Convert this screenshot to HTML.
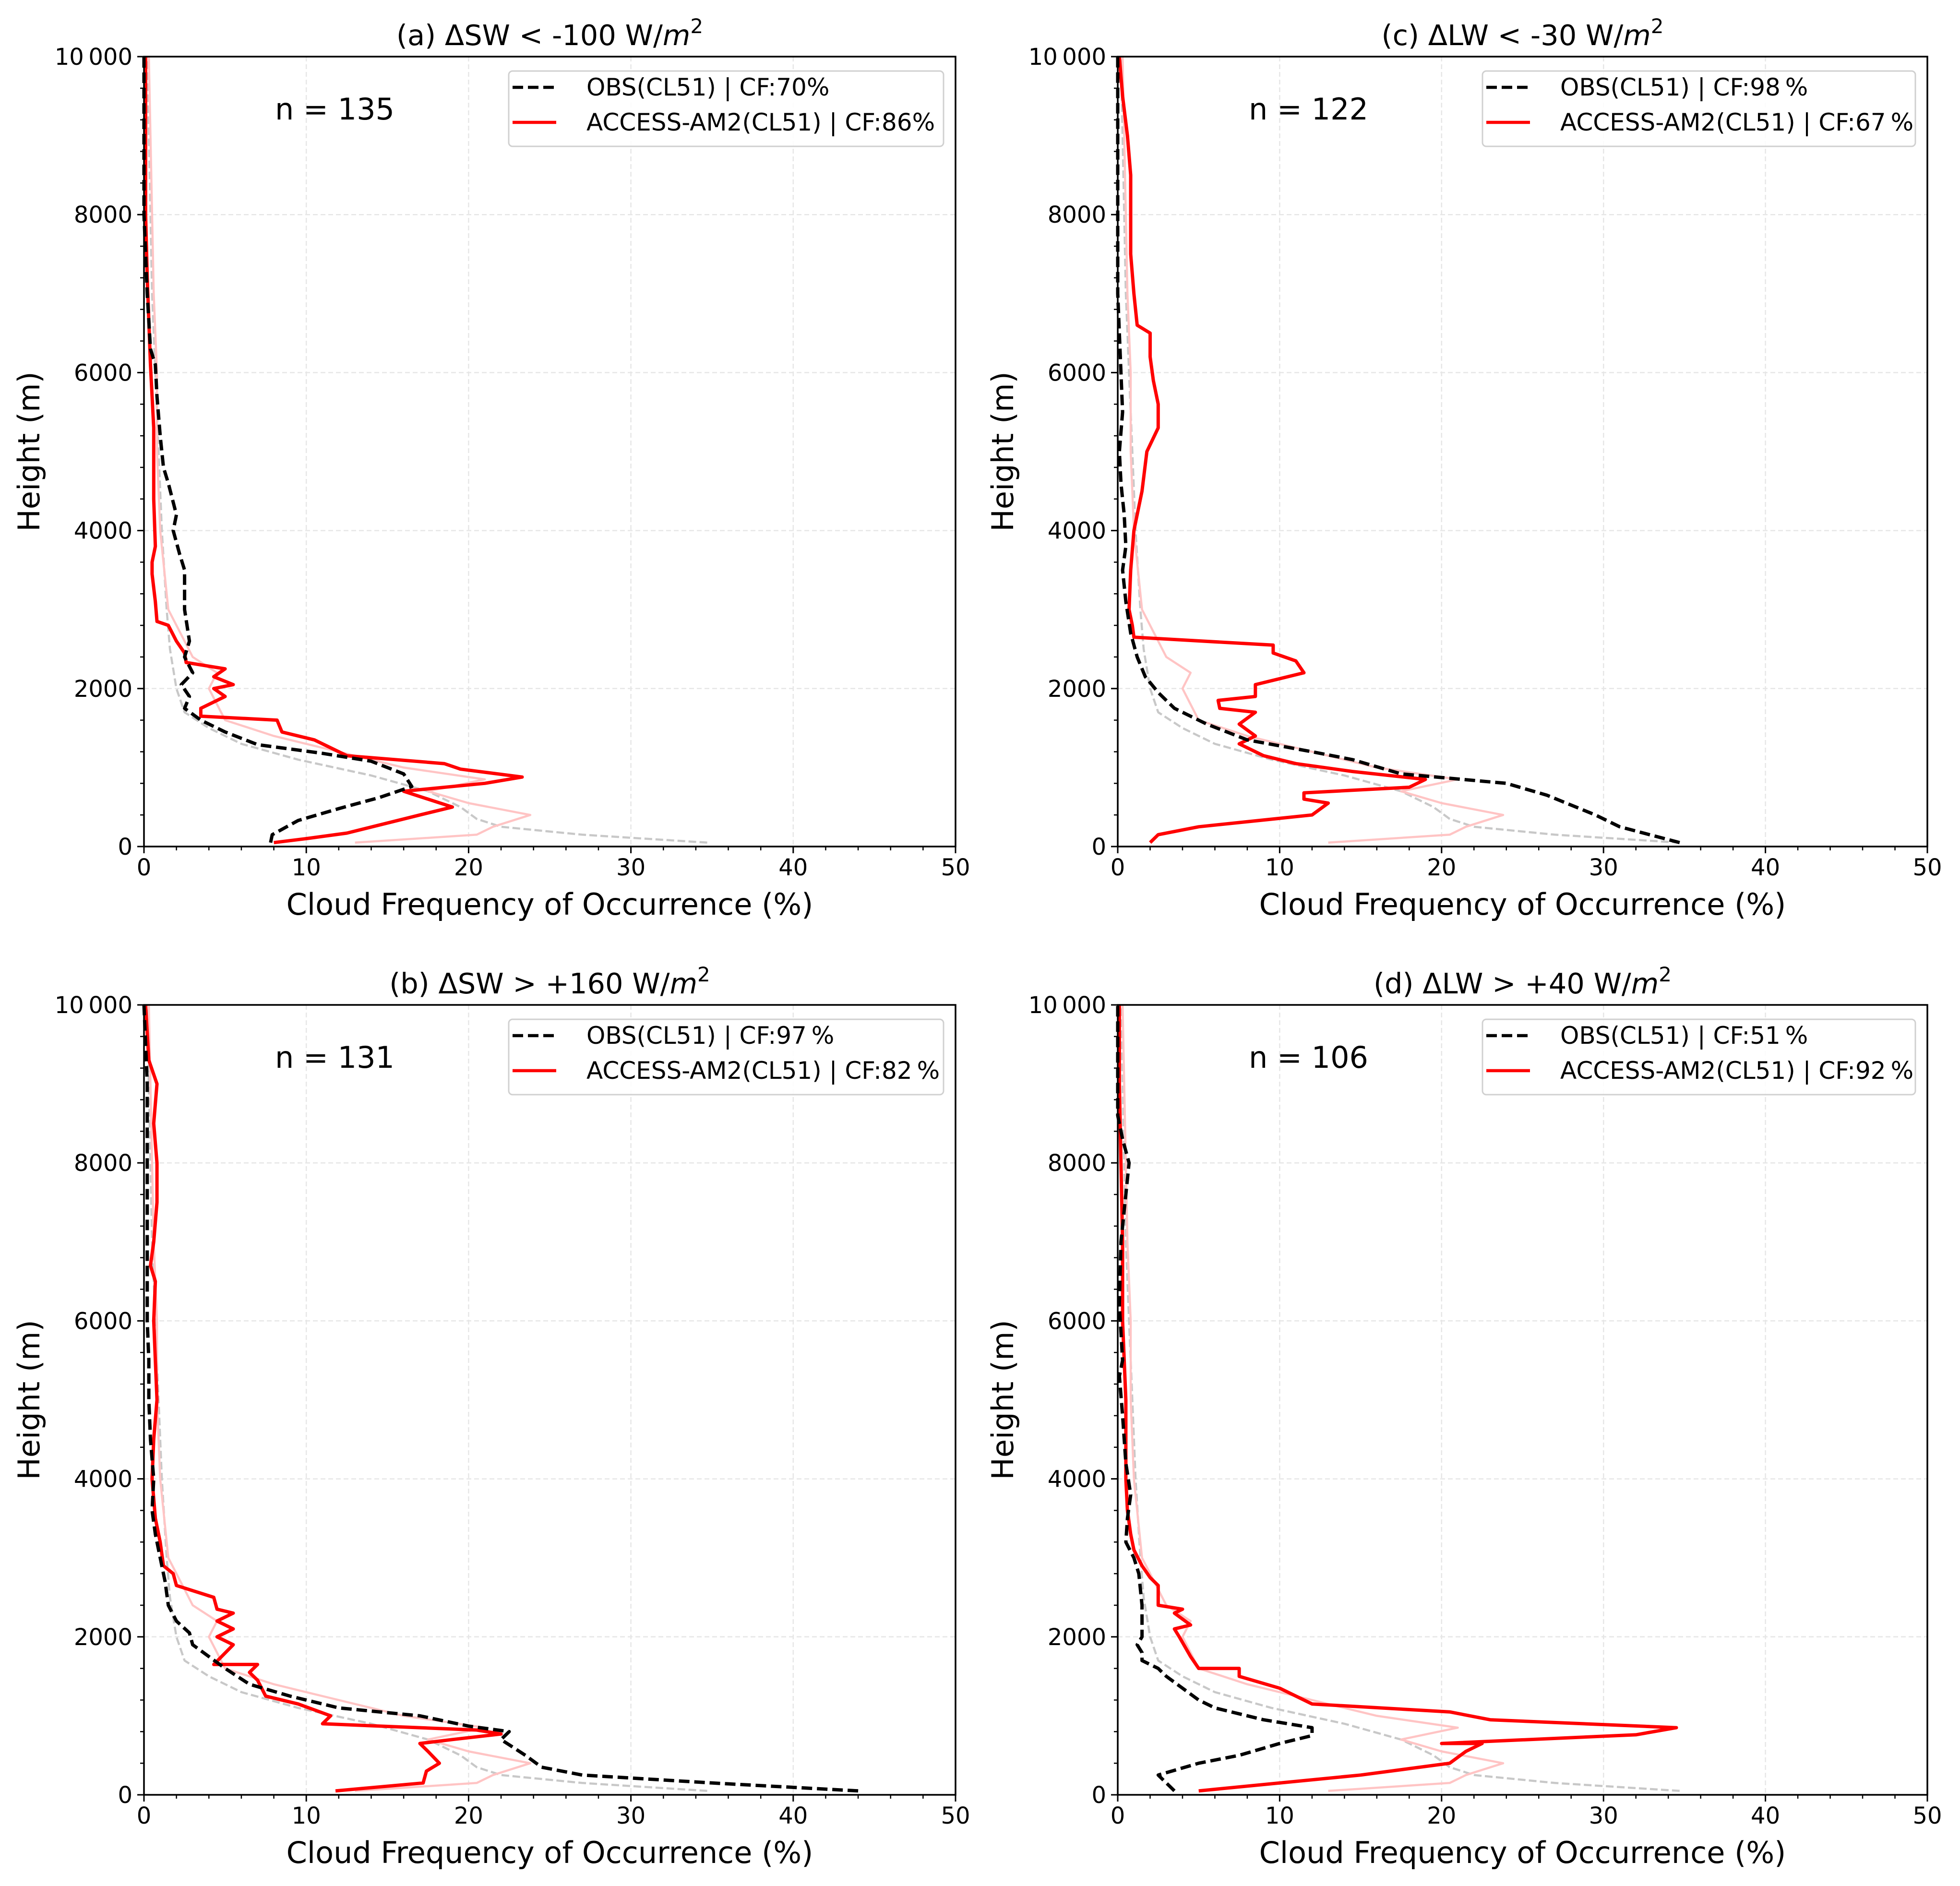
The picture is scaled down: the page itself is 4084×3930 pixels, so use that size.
<!DOCTYPE html>
<html><head><meta charset="utf-8"><style>
html,body{margin:0;padding:0;background:#fff;}
svg{display:block;font-family:"DejaVu Sans","Liberation Sans",sans-serif;}
</style></head><body>
<svg id="fig" width="4084" height="3930" viewBox="0 0 4084 3930" xmlns="http://www.w3.org/2000/svg"></svg>
<script>
const xTicks=[0,10,20,30,40,50];
const yTicks=[0,2000,4000,6000,8000,10000];
const yTickLabels=["0","2000","4000","6000","8000","10\u2009000"];
const bgGrayX=[34.7,27,22,20.5,19.5,17.5,14,9.5,6,4,2.5,2,1.6,1.4,1.1,0.9,0.7,0.5,0.4,0.3,0.2];
const bgGrayH=[50,150,250,350,500,700,900,1100,1300,1500,1700,2000,2500,3000,4000,5000,6000,7000,8000,9000,10000];
const bgPinkX=[13,20.5,21.5,23.8,20,17.5,21,16,12,8,5,4.5,4,4.5,3,2.5,1.5,1,0.8,0.8,0.6,0.5,0.4,0.3];
const bgPinkH=[50,150,250,400,550,700,850,1000,1200,1400,1600,1800,2000,2200,2400,2600,3000,4000,5000,6000,7000,8000,9000,10000];

const obsA=[[7.8,50],[7.9,150],[9.5,330],[12,480],[14.5,620],[16.5,760],[16,920],[14,1080],[11,1180],[7,1290],[5,1450],[3.5,1600],[2.5,1750],[2.8,1900],[2.3,2050],[3,2200],[2.5,2400],[2.8,2600],[2.5,3000],[2.5,3500],[2.2,3700],[1.8,4000],[2,4200],[1.5,4600],[1.2,4800],[1,5200],[0.8,5700],[0.7,6100],[0.4,6300],[0.2,7000],[0.1,7500],[0,8000],[0,10000]];
const modA=[[8,50],[10,100],[12.5,170],[17,400],[19,500],[16,700],[21,800],[23.3,880],[19.5,980],[18.5,1050],[12.5,1150],[10.5,1350],[8.5,1450],[8.2,1600],[3.5,1650],[3.5,1750],[5,1900],[4.3,2000],[5.5,2050],[4.3,2150],[5,2250],[2.6,2330],[2.5,2450],[2,2600],[1.5,2800],[0.8,2850],[0.7,3100],[0.5,3450],[0.5,3600],[0.7,3800],[0.6,4400],[0.6,5300],[0.4,6100],[0.2,7200],[0.1,8000],[0.1,9000],[0.1,10000]];
const obsB=[[44,50],[35,150],[27,250],[24.5,350],[23.5,500],[22,700],[22.5,800],[20,870],[17,1000],[12,1100],[9,1250],[6.5,1400],[5,1600],[4,1750],[3,1900],[2.8,2050],[2,2200],[1.5,2400],[1.3,2700],[1,3000],[0.7,3300],[0.5,3600],[0.6,4000],[0.4,4500],[0.3,5000],[0.3,5500],[0.2,6000],[0.2,7000],[0.2,8000],[0.2,9000],[0,10000]];
const modB=[[11.8,50],[17.2,150],[17.4,300],[18.2,400],[17.5,550],[17,650],[19,700],[22,770],[20.5,820],[11,900],[11.5,1000],[9.5,1150],[7.5,1250],[7,1450],[6.5,1550],[7,1650],[4.3,1650],[5.5,1900],[4.5,2000],[5.5,2100],[4.5,2200],[5.5,2300],[4.5,2350],[4.3,2500],[2,2650],[1.8,2800],[1.2,2900],[1,3200],[0.7,3500],[0.5,4000],[0.6,4500],[0.8,5000],[0.7,5500],[0.6,6000],[0.7,6500],[0.4,6700],[0.6,7000],[0.8,7500],[0.8,8000],[0.6,8500],[0.8,9000],[0.3,9300],[0.1,10000]];
const obsC=[[34.7,50],[31,250],[29.5,400],[26.5,650],[24,800],[17.5,920],[14.5,1100],[12,1200],[8,1350],[5.5,1550],[3.5,1750],[2.5,1950],[1.7,2150],[1.2,2400],[0.8,2700],[0.5,3100],[0.3,3500],[0.5,3800],[0.4,4200],[0.2,4600],[0.1,5000],[0.3,5500],[0.2,6000],[0,7000],[0,10000]];
const modC=[[2,50],[2.5,150],[5,250],[12,400],[13,550],[11.5,600],[11.5,680],[18,750],[19,850],[14.5,950],[11,1050],[9,1150],[7.5,1300],[8.5,1400],[7.5,1550],[8.5,1700],[6.3,1750],[6.2,1850],[8.5,1900],[8.5,2050],[11.5,2200],[11,2350],[9.6,2450],[9.6,2550],[1,2650],[0.9,2800],[0.7,3000],[0.8,3500],[1,4000],[1.5,4500],[1.8,5000],[2.5,5300],[2.5,5600],[2.2,5900],[2,6200],[2,6500],[1.2,6600],[1,7000],[0.8,7500],[0.8,8000],[0.8,8500],[0.6,9000],[0.3,9500],[0.1,10000]];
const obsD=[[3.5,50],[2.5,250],[5,400],[7.5,500],[10,650],[12,750],[12,850],[9,950],[6,1100],[5,1200],[4,1350],[3,1500],[2.5,1600],[1.5,1700],[1.5,1800],[1.2,1900],[1.5,2000],[1.5,2400],[1.3,2800],[1,3000],[0.5,3200],[0.6,3500],[0.8,3800],[0.5,4200],[0.3,4800],[0.1,5300],[0.3,5500],[0.1,6200],[0.2,7000],[0.5,7600],[0.7,8000],[0.3,8300],[0,8600],[0,10000]];
const modD=[[5,50],[15,250],[20.5,400],[21.5,550],[22.5,650],[20,650],[32,760],[34.5,850],[23,950],[20.5,1050],[12,1150],[10,1350],[7.5,1500],[7.5,1600],[5,1600],[4.5,1750],[3.8,2000],[3.5,2100],[4.5,2150],[3.5,2300],[4,2350],[2.5,2400],[2.5,2650],[2,2750],[1.5,2900],[1,3100],[0.8,3300],[0.6,3600],[0.5,4000],[0.5,4500],[0.5,5000],[0.4,5500],[0.3,6000],[0.3,7000],[0.2,8000],[0.1,9000],[0.1,10000]];
const panelTitles=[["(a) \u0394SW < -100 W/"],["(b) \u0394SW > +160 W/"],["(c) \u0394LW < -30 W/"],["(d) \u0394LW > +40 W/"]];
const nLabels=["n = 135","n = 131","n = 122","n = 106"];
const obsLegend=["OBS(CL51) | CF:70%","OBS(CL51) | CF:97\u2009%","OBS(CL51) | CF:98\u2009%","OBS(CL51) | CF:51\u2009%"];
const modLegend=["ACCESS-AM2(CL51) | CF:86%","ACCESS-AM2(CL51) | CF:82\u2009%","ACCESS-AM2(CL51) | CF:67\u2009%","ACCESS-AM2(CL51) | CF:92\u2009%"];

const NS="http://www.w3.org/2000/svg";
const svg=document.getElementById('fig');
function mk(tag,attrs,parent){const e=document.createElementNS(NS,tag);for(const k in attrs)e.setAttribute(k,attrs[k]);(parent||svg).appendChild(e);return e;}
const panels=[
 {L:300,R:1991,T:118,B:1764,obs:obsA,mod:modA,id:'a'},
 {L:300,R:1991,T:2094,B:3740,obs:obsB,mod:modB,id:'b'},
 {L:2329,R:4016,T:118,B:1764,obs:obsC,mod:modC,id:'c'},
 {L:2329,R:4016,T:2094,B:3740,obs:obsD,mod:modD,id:'d'}];
panels.forEach((p,i)=>{
 const g=mk('g',{});
 
 
 const xs=v=>p.L+(v/50)*(p.R-p.L);
 const ys=v=>p.B-(v/10000)*(p.B-p.T);
 xTicks.forEach(t=>{if(t>0&&t<50){const l=mk('line',{x1:xs(t),x2:xs(t),y1:p.T,y2:p.B,stroke:'#e6e6e6','stroke-width':2.5,'stroke-dasharray':'10,6'},g);}});
 yTicks.forEach(t=>{if(t>0&&t<10000){const l=mk('line',{x1:p.L,x2:p.R,y1:ys(t),y2:ys(t),stroke:'#e6e6e6','stroke-width':2.5,'stroke-dasharray':'10,6'},g);}});
 const path=(arrX,arrH,attrs,name)=>{let d='';for(let k=0;k<arrX.length;k++)d+=(k?'L':'M')+xs(arrX[k]).toFixed(1)+','+ys(arrH[k]).toFixed(1);const e=mk('path',Object.assign({d:d,fill:'none','stroke-linejoin':'round'},attrs),g);return e;};
 path(bgGrayX,bgGrayH,{stroke:'#c8c8c8','stroke-width':4.5,'stroke-dasharray':'16,7'},'climatology-obs-line');
 path(bgPinkX,bgPinkH,{stroke:'#ffc4c4','stroke-width':4.5},'climatology-model-line');
 path(p.mod.map(a=>a[0]),p.mod.map(a=>a[1]),{stroke:'#ff0000','stroke-width':7},'model-line');
 path(p.obs.map(a=>a[0]),p.obs.map(a=>a[1]),{stroke:'#000','stroke-width':7,'stroke-dasharray':'22,10'},'obs-line');
 const fr=mk('rect',{x:p.L,y:p.T,width:p.R-p.L,height:p.B-p.T,fill:'none',stroke:'#000','stroke-width':3.5},g);
 
 for(let v=0;v<=50;v+=2){const maj=v%10===0;mk('line',{x1:xs(v),x2:xs(v),y1:p.B,y2:p.B+(maj?14:8),stroke:'#000','stroke-width':maj?3:2.5},g);}
 for(let v=0;v<=10000;v+=400){mk('line',{x1:p.L,x2:p.L-8,y1:ys(v),y2:ys(v),stroke:'#000','stroke-width':2.5},g);}
 xTicks.forEach(t=>{const e=mk('text',{x:xs(t),y:p.B+60,'font-size':48,'text-anchor':'middle'},g);e.textContent=t;});
 yTicks.forEach((t,k)=>{mk('line',{x1:p.L,x2:p.L-14,y1:ys(t),y2:ys(t),stroke:'#000','stroke-width':3},g);const e=mk('text',{x:p.L-24,y:ys(t)+17,'font-size':48,'text-anchor':'end'},g);e.textContent=yTickLabels[k];});
 const xl=mk('text',{x:(p.L+p.R)/2,y:p.B+142,'font-size':62,'text-anchor':'middle'},g);xl.textContent='Cloud Frequency of Occurrence (%)';
 const yl=mk('text',{x:0,y:0,'font-size':62,'text-anchor':'middle',transform:`translate(${p.L-218},${(p.T+p.B)/2}) rotate(-90)`},g);yl.textContent='Height (m)';
 const tt=mk('text',{x:(p.L+p.R)/2,y:p.T-24,'font-size':59,'text-anchor':'middle'},g);
 const t1=mk('tspan',{},tt);t1.textContent=panelTitles[i][0];
 const t2=mk('tspan',{'font-style':'italic'},tt);t2.textContent='m';
 const t3=mk('tspan',{'font-size':42,dy:-25},tt);t3.textContent='2';
 const nl=mk('text',{x:p.L+273,y:p.T+131,'font-size':62},g);nl.textContent=nLabels[i];
 const lg=mk('g',{},g);
 mk('rect',{x:p.L+760,y:p.T+30,width:p.R-p.L-785,height:157,rx:8,fill:'#fff','fill-opacity':0.85,stroke:'#d0d0d0','stroke-width':3},lg);
 mk('line',{x1:p.L+768,x2:p.L+859,y1:p.T+64,y2:p.T+64,stroke:'#000','stroke-width':6.5,'stroke-dasharray':'22,10'},lg);
 mk('line',{x1:p.L+768,x2:p.L+859,y1:p.T+137,y2:p.T+137,stroke:'#ff0000','stroke-width':6.5},lg);
 const e1=mk('text',{x:p.L+922,y:p.T+81,'font-size':50},lg);e1.textContent=obsLegend[i];
 const e2=mk('text',{x:p.L+922,y:p.T+154,'font-size':50},lg);e2.textContent=modLegend[i];
});
</script>
</body></html>
